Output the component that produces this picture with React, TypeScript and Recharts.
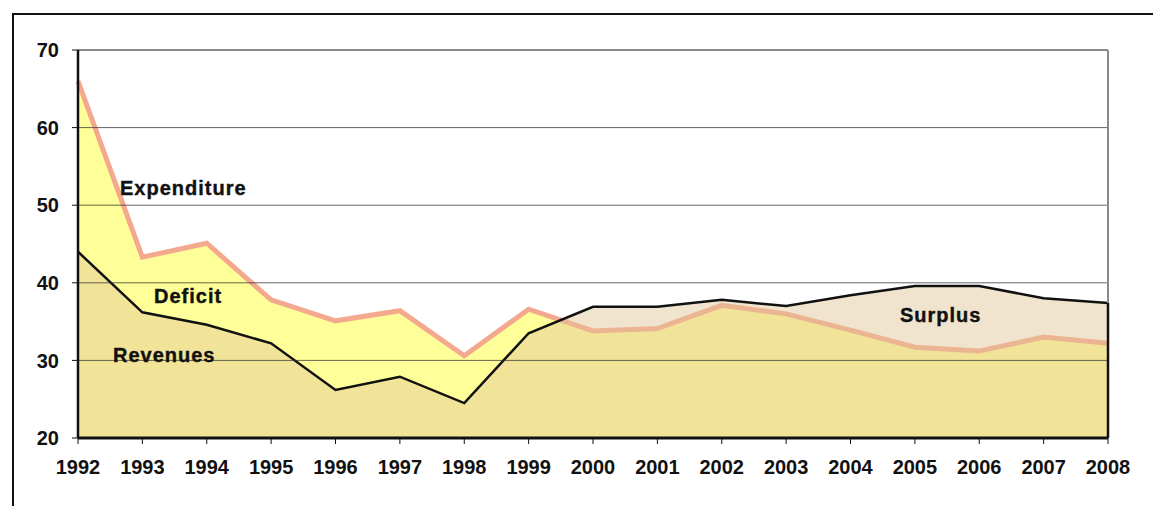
import { AreaChart, Area, XAxis, YAxis, ReferenceLine } from "recharts"

const years = [
  "1992", "1993", "1994", "1995", "1996", "1997", "1998", "1999", "2000",
  "2001", "2002", "2003", "2004", "2005", "2006", "2007", "2008",
]
const expenditure = [
  66.0, 43.3, 45.1, 37.8, 35.1, 36.4, 30.6, 36.6, 33.8,
  34.1, 37.1, 36.0, 33.9, 31.7, 31.2, 33.0, 32.2,
]
const revenues = [
  44.0, 36.2, 34.6, 32.2, 26.2, 27.9, 24.5, 33.5, 36.9,
  36.9, 37.8, 37.0, 38.4, 39.6, 39.6, 38.0, 37.4,
]
const yTicks = [20, 30, 40, 50, 60, 70]
const gridTicks = [30, 40, 50, 60]

const data = years.map((year, i) => ({
  year,
  expenditure: expenditure[i],
  revenues: revenues[i],
}))

const labelStyle = {
  position: "absolute" as const,
  fontSize: 20,
  fontWeight: "bold" as const,
  letterSpacing: 1,
  lineHeight: "20px",
  color: "#111",
  whiteSpace: "nowrap" as const,
  WebkitTextStroke: "0.4px #111",
}

export default function App() {
  return (
    <div
      style={{
        position: "absolute",
        left: 0,
        top: 0,
        width: 1153,
        height: 506,
        background: "#fff",
        fontFamily: "'Liberation Sans', Arial, sans-serif",
      }}
    >
      <style>{`.recharts-cartesian-axis-tick text { letter-spacing: 1px; stroke: #111; stroke-width: 0.4px; }`}</style>
      <div
        style={{
          position: "absolute",
          left: 12,
          top: 13,
          right: 0,
          bottom: 0,
          borderTop: "2px solid #111",
          borderLeft: "2px solid #111",
        }}
      />
      <AreaChart
        width={1153}
        height={506}
        data={data}
        margin={{ top: 50, right: 45, left: 28, bottom: 38 }}
        style={{ position: "absolute", left: 0, top: 0 }}
      >
        <XAxis
          dataKey="year"
          tick={{ fill: "#111", fontSize: 20, fontWeight: "bold" }}
          tickLine={{ stroke: "#111" }}
          axisLine={false}
          tickSize={6}
          tickMargin={16}
          height={30}
          interval={0}
        />
        <YAxis
          domain={[20, 70]}
          ticks={yTicks}
          tick={{ fill: "#111", fontSize: 20, fontWeight: "bold" }}
          tickLine={{ stroke: "#111" }}
          axisLine={false}
          tickSize={6}
          tickMargin={13}
          width={50}
          interval={0}
        />
        <Area
          type="linear"
          dataKey="expenditure"
          stroke="#f4a88e"
          strokeWidth={5}
          fill="#ffff99"
          fillOpacity={1}
          isAnimationActive={false}
        />
        <Area
          type="linear"
          dataKey="revenues"
          stroke="#111"
          strokeWidth={2.5}
          fill="#e0c496"
          fillOpacity={0.46}
          isAnimationActive={false}
        />
        {gridTicks.map((t) => (
          <ReferenceLine key={t} y={t} stroke="#333" strokeOpacity={0.75} strokeWidth={1} />
        ))}
        <ReferenceLine y={70} stroke="#8a8a8a" strokeWidth={2} />
        <ReferenceLine x={years[years.length - 1]} stroke="#8a8a8a" strokeWidth={2} />
        <ReferenceLine
          segment={[
            { x: years[years.length - 1], y: 20 },
            { x: years[years.length - 1], y: revenues[revenues.length - 1] },
          ]}
          stroke="#111"
          strokeWidth={2.5}
        />
        <ReferenceLine x={years[0]} stroke="#111" strokeWidth={2.5} />
        <ReferenceLine y={20} stroke="#111" strokeWidth={3} />
      </AreaChart>
      <div style={{ ...labelStyle, left: 120, top: 178 }}>Expenditure</div>
      <div style={{ ...labelStyle, left: 154, top: 286 }}>Deficit</div>
      <div style={{ ...labelStyle, left: 113, top: 345 }}>Revenues</div>
      <div style={{ ...labelStyle, left: 900, top: 305 }}>Surplus</div>
    </div>
  )
}
